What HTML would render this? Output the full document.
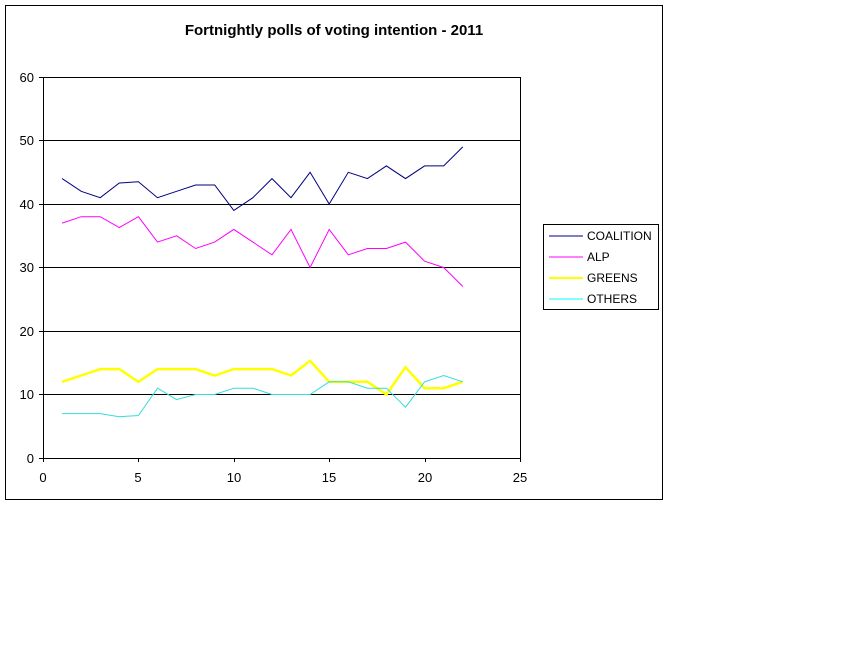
<!DOCTYPE html><html><head><style>body{margin:0;background:#fff}svg{display:block;font-family:"Liberation Sans",Arial,sans-serif}</style></head><body>
<svg width="841" height="648" xmlns="http://www.w3.org/2000/svg">
<rect x="5.5" y="5.5" width="657" height="494" fill="#fff" stroke="#000"/>
<text x="334" y="35" font-size="15" font-weight="bold" text-anchor="middle">Fortnightly polls of voting intention - 2011</text>
<g stroke="#000" stroke-width="1">
<line x1="43" y1="77.5" x2="520" y2="77.5"/><line x1="43" y1="140.5" x2="520" y2="140.5"/><line x1="43" y1="204.5" x2="520" y2="204.5"/><line x1="43" y1="267.5" x2="520" y2="267.5"/><line x1="43" y1="331.5" x2="520" y2="331.5"/><line x1="43" y1="394.5" x2="520" y2="394.5"/>
<line x1="520.5" y1="77" x2="520.5" y2="458"/>
<line x1="43.5" y1="77" x2="43.5" y2="462"/><line x1="39" y1="458.5" x2="520" y2="458.5"/>
<line x1="39" y1="77.5" x2="43" y2="77.5"/><line x1="39" y1="140.5" x2="43" y2="140.5"/><line x1="39" y1="204.5" x2="43" y2="204.5"/><line x1="39" y1="267.5" x2="43" y2="267.5"/><line x1="39" y1="331.5" x2="43" y2="331.5"/><line x1="39" y1="394.5" x2="43" y2="394.5"/>
<line x1="138.5" y1="458" x2="138.5" y2="462"/><line x1="234.5" y1="458" x2="234.5" y2="462"/><line x1="329.5" y1="458" x2="329.5" y2="462"/><line x1="425.5" y1="458" x2="425.5" y2="462"/><line x1="520.5" y1="458" x2="520.5" y2="462"/>
</g>
<g font-size="13" text-anchor="end"><text x="34" y="82">60</text><text x="34" y="145">50</text><text x="34" y="209">40</text><text x="34" y="272">30</text><text x="34" y="336">20</text><text x="34" y="399">10</text><text x="34" y="463">0</text></g>
<g font-size="13" text-anchor="middle"><text x="43" y="482">0</text><text x="138" y="482">5</text><text x="234" y="482">10</text><text x="329" y="482">15</text><text x="425" y="482">20</text><text x="520" y="482">25</text></g>
<g fill="none">
<polyline stroke="#000080" points="62.1,178.6 81.2,191.3 100.2,197.7 119.3,183.0 138.4,181.8 157.5,197.7 176.6,191.3 195.6,185.0 214.7,185.0 233.8,210.4 252.9,197.7 272.0,178.6 291.0,197.7 310.1,172.3 329.2,204.0 348.3,172.3 367.4,178.6 386.4,165.9 405.5,178.6 424.6,165.9 443.7,165.9 462.8,146.9"/>
<polyline stroke="#ff00ff" points="62.1,223.1 81.2,216.7 100.2,216.7 119.3,227.5 138.4,216.7 157.5,242.1 176.6,235.8 195.6,248.5 214.7,242.1 233.8,229.4 252.9,242.1 272.0,254.8 291.0,229.4 310.1,267.5 329.2,229.4 348.3,254.8 367.4,248.5 386.4,248.5 405.5,242.1 424.6,261.2 443.7,267.5 462.8,286.5"/>
<polyline stroke="#ffff00" stroke-width="2.5" points="62.1,381.8 81.2,375.5 100.2,369.1 119.3,369.1 138.4,381.8 157.5,369.1 176.6,369.1 195.6,369.1 214.7,375.5 233.8,369.1 252.9,369.1 272.0,369.1 291.0,375.5 310.1,360.8 329.2,381.8 348.3,381.8 367.4,381.8 386.4,394.5 405.5,367.2 424.6,388.2 443.7,388.2 462.8,381.8"/>
<polyline stroke="#33dddd" points="62.1,413.6 81.2,413.6 100.2,413.6 119.3,416.7 138.4,415.5 157.5,388.2 176.6,399.6 195.6,394.5 214.7,394.5 233.8,388.2 252.9,388.2 272.0,394.5 291.0,394.5 310.1,394.5 329.2,381.8 348.3,381.8 367.4,388.2 386.4,388.2 405.5,407.2 424.6,381.8 443.7,375.5 462.8,381.8"/>
</g>
<rect x="543.5" y="224.5" width="115" height="85" fill="#fff" stroke="#000"/>
<g font-size="12"><text x="587" y="240">COALITION</text><text x="587" y="261">ALP</text><text x="587" y="282">GREENS</text><text x="587" y="303">OTHERS</text></g>
<line x1="549" y1="236" x2="583" y2="236" stroke="#000080"/><line x1="549" y1="257" x2="583" y2="257" stroke="#ff00ff"/><line x1="549" y1="278" x2="583" y2="278" stroke="#ffff00" stroke-width="2"/><line x1="549" y1="299" x2="583" y2="299" stroke="#00ffff"/>
</svg></body></html>
